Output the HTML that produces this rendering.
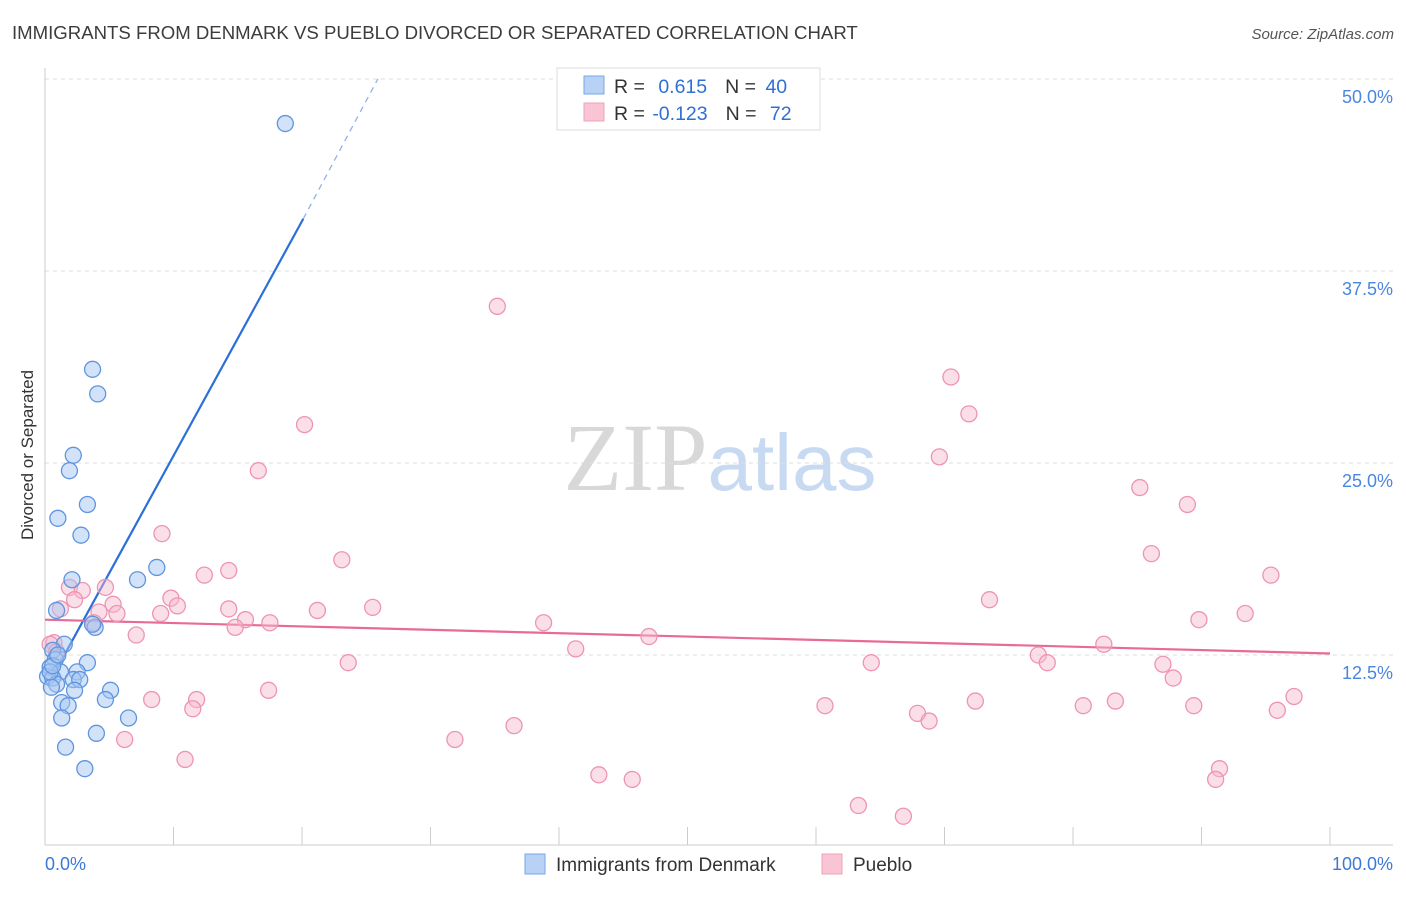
<!DOCTYPE html>
<html><head><meta charset="utf-8"><style>
body{margin:0;background:#fff;font-family:"Liberation Sans",sans-serif;}
</style></head><body>
<svg id="chart" width="1406" height="892" xmlns="http://www.w3.org/2000/svg" font-family="Liberation Sans, sans-serif">
<text x="12" y="39" font-size="18.6" fill="#3c3c3c">IMMIGRANTS FROM DENMARK VS PUEBLO DIVORCED OR SEPARATED CORRELATION CHART</text>
<text x="1394" y="39" font-size="15" font-style="italic" fill="#555" text-anchor="end">Source: ZipAtlas.com</text>
<text x="720" y="490" font-size="96" text-anchor="middle"><tspan fill="#d8d8d8" font-family="Liberation Serif, serif">ZIP</tspan><tspan fill="#c8daf2" font-size="80">atlas</tspan></text>
<text transform="translate(33,455) rotate(-90)" font-size="17" fill="#333" text-anchor="middle">Divorced or Separated</text>
<g id="grid"></g><g id="axes"></g><g id="trend"></g><g id="pts"></g>
<g>
<rect x="557" y="68" width="263" height="62" fill="#fff" stroke="#ddd"/>
<rect x="584" y="76" width="20" height="18" fill="#b8d2f5" stroke="#7aa6e6"/>
<rect x="584" y="103" width="20" height="18" fill="#f9c4d4" stroke="#eea3ba"/>
<text x="614" y="93" font-size="19.5" fill="#333">R = <tspan fill="#2f6fd6" dx="8">0.615</tspan><tspan dx="18" fill="#333">N = </tspan><tspan fill="#2f6fd6" dx="4">40</tspan></text>
<text x="614" y="120" font-size="19.5" fill="#333">R = <tspan fill="#2f6fd6" dx="2">-0.123</tspan><tspan dx="18" fill="#333">N = </tspan><tspan fill="#2f6fd6" dx="8">72</tspan></text>
</g>
<g>
<rect x="525" y="854" width="20" height="20" fill="#b8d2f5" stroke="#7aa6e6"/>
<text x="556" y="871" font-size="19" fill="#333">Immigrants from Denmark</text>
<rect x="822" y="854" width="20" height="20" fill="#f9c4d4" stroke="#eea3ba"/>
<text x="853" y="871" font-size="19" fill="#333">Pueblo</text>
</g>
<text x="45" y="870" font-size="18" fill="#3b78d8">0.0%</text>
<text x="1393" y="870" font-size="18" fill="#3b78d8" text-anchor="end">100.0%</text>
</svg>
<script>
const yTicks=[12.5,25,37.5,50];
const yTickLabels=["12.5%","25.0%","37.5%","50.0%"];
const blueX=[18.7,3.7,4.1,2.2,1.9,3.3,1.0,2.8,8.7,7.2,2.1,0.9,3.9,3.7,1.5,0.6,0.8,3.3,0.4,1.2,2.5,0.2,0.6,2.2,2.7,0.9,0.5,2.3,5.1,4.7,1.3,1.8,1.3,6.5,4.0,1.6,3.1,0.4,0.6,1.0];
const blueY=[47.1,31.1,29.5,25.5,24.5,22.3,21.4,20.3,18.2,17.4,17.4,15.4,14.3,14.5,13.2,12.8,12.2,12.0,11.7,11.4,11.4,11.1,11.0,10.9,10.9,10.6,10.4,10.2,10.2,9.6,9.4,9.2,8.4,8.4,7.4,6.5,5.1,11.4,11.8,12.5];
const pinkX=[35.2,70.5,71.9,20.2,69.6,16.6,85.2,88.9,9.1,23.1,86.1,14.3,12.4,95.4,4.7,1.9,2.9,1.2,2.3,9.8,73.5,10.3,5.3,5.6,4.2,9.0,14.3,25.5,21.2,15.6,17.5,93.4,89.8,38.8,3.8,14.8,7.1,0.7,47.0,82.4,41.3,77.3,78.0,23.6,64.3,87.0,87.8,17.4,8.3,11.8,11.5,60.7,67.9,72.4,80.8,83.3,89.4,97.2,95.9,68.8,36.5,6.2,31.9,10.9,43.1,45.7,91.4,91.1,63.3,66.8,0.4,0.9];
const pinkY=[35.2,30.6,28.2,27.5,25.4,24.5,23.4,22.3,20.4,18.7,19.1,18.0,17.7,17.7,16.9,16.9,16.7,15.5,16.1,16.2,16.1,15.7,15.8,15.2,15.3,15.2,15.5,15.6,15.4,14.8,14.6,15.2,14.8,14.6,14.6,14.3,13.8,13.3,13.7,13.2,12.9,12.5,12.0,12.0,12.0,11.9,11.0,10.2,9.6,9.6,9.0,9.2,8.7,9.5,9.2,9.5,9.2,9.8,8.9,8.2,7.9,7.0,7.0,5.7,4.7,4.4,5.1,4.4,2.7,2.0,13.2,12.7];
const blueTrend=[[0.2,10.5],[20.1,40.9]];
const blueTrendDash=[[20.1,40.9],[25.9,50]];
const pinkTrend=[[0,14.8],[100,12.6]];
const NS="http://www.w3.org/2000/svg";
const X=v=>45+v*12.85, Y=v=>847-v*15.36;
function mk(p,t,a){const e=document.createElementNS(NS,t);for(const k in a)e.setAttribute(k,a[k]);p.appendChild(e);return e;}
const grid=document.getElementById('grid'),axes=document.getElementById('axes'),tr=document.getElementById('trend'),pts=document.getElementById('pts');
yTicks.forEach((t,i)=>{
 const l=mk(grid,'line',{x1:45,x2:1393,y1:Y(t),y2:Y(t),stroke:'#dedede','stroke-dasharray':'4,4'});
 
 
 const tx=mk(grid,'text',{x:1393,y:Y(t)+24,'font-size':18,fill:'#4a86e0','text-anchor':'end'});
 tx.textContent=yTickLabels[i];
 
 
});
const ya=mk(axes,'line',{x1:45,x2:45,y1:68,y2:845,stroke:'#ccc'});


const xa=mk(axes,'line',{x1:45,x2:1393,y1:845,y2:845,stroke:'#ccc'});


for(let i=1;i<=10;i++){const t=mk(axes,'line',{x1:X(i*10),x2:X(i*10),y1:827,y2:845,stroke:'#ccc'});
 
 }
function ln(d,c,w,dash,name){const a={x1:X(d[0][0]),y1:Y(d[0][1]),x2:X(d[1][0]),y2:Y(d[1][1]),stroke:c,'stroke-width':w};if(dash)a['stroke-dasharray']=dash;const l=mk(tr,'line',a);
 
 }
ln(blueTrend,'#2b6fd8',2.2,null,'denmark-trend-line');
ln(blueTrendDash,'#8fb3ea',1.3,'6,5','denmark-trend-extension');
ln(pinkTrend,'#e76a98',2.2,null,'pueblo-trend-line');
pinkX.forEach((x,i)=>{const c=mk(pts,'circle',{cx:X(x),cy:Y(pinkY[i]),r:8,fill:'#f7b9cd','fill-opacity':0.45,stroke:'#ee94b2','stroke-width':1.3});
 
 });
blueX.forEach((x,i)=>{const c=mk(pts,'circle',{cx:X(x),cy:Y(blueY[i]),r:8,fill:'#a6c6f2','fill-opacity':0.5,stroke:'#5f95de','stroke-width':1.3});
 
 });
</script>
</body></html>
